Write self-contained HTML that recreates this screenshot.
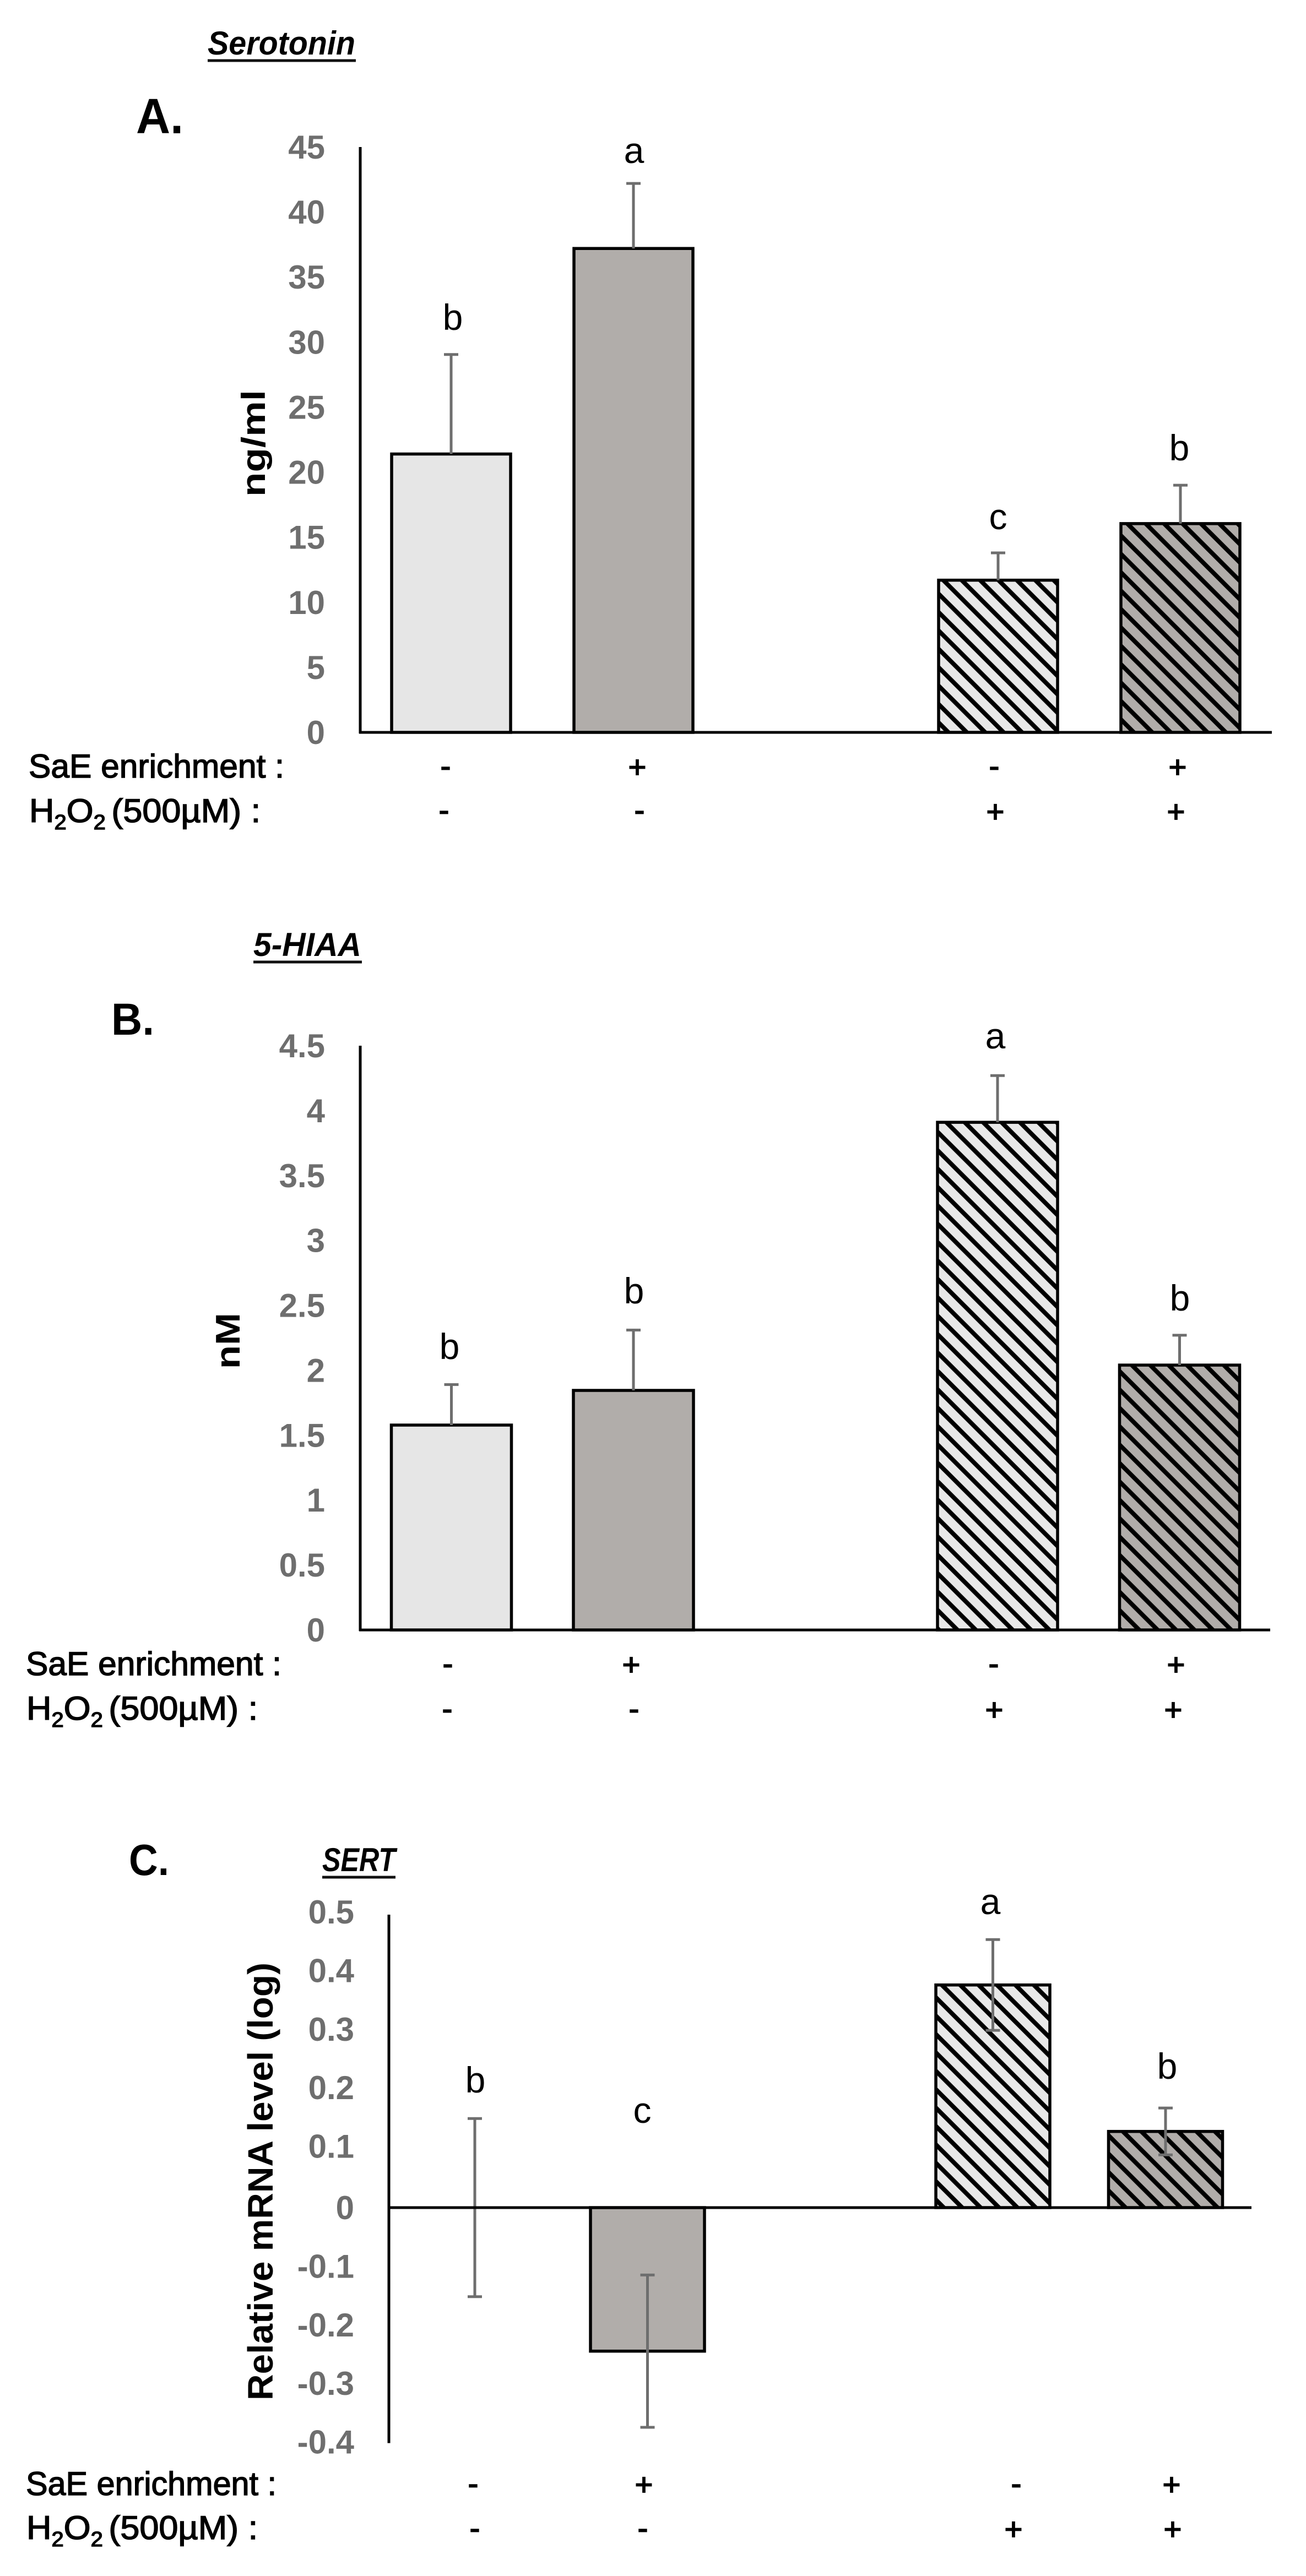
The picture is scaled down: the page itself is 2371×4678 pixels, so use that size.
<!DOCTYPE html>
<html lang="en">
<head>
<meta charset="utf-8">
<title>Serotonin, 5-HIAA and SERT</title>
<style>
html,body{margin:0;padding:0;background:#fff;}
svg{display:block;}
text{font-family:"Liberation Sans",sans-serif;fill:#000;}
.row{font-size:60px;stroke:#000;stroke-width:1.5px;}
.sign{font-size:56px;text-anchor:middle;stroke:#000;stroke-width:1.8px;}
.sig{font-size:66px;text-anchor:middle;}
.panel{font-weight:bold;}
.gene{font-size:60px;font-weight:bold;font-style:italic;}
.ytitle{font-weight:bold;}
.tick{font-size:60px;font-weight:bold;fill:#6e6e6e;text-anchor:end;}
</style>
</head>
<body>
<svg id="fig" xmlns="http://www.w3.org/2000/svg" width="2371" height="4678" viewBox="0 0 2371 4678">
<defs>
<pattern id="hatch-a-light" patternUnits="userSpaceOnUse" width="33.4" height="33.4" patternTransform="translate(24.4,0)"><rect width="33.4" height="33.4" fill="#e8e8e8"/><path d="M-5,-5L38.4,38.4M23.4,-10L43.4,10M-10,23.4L10,43.4" stroke="#000" stroke-width="8"/></pattern>
<pattern id="hatch-a-dark" patternUnits="userSpaceOnUse" width="33.4" height="33.4" patternTransform="translate(27,0)"><rect width="33.4" height="33.4" fill="#b1adaa"/><path d="M-5,-5L38.4,38.4M23.4,-10L43.4,10M-10,23.4L10,43.4" stroke="#000" stroke-width="8"/></pattern>
<pattern id="hatch-b-light" patternUnits="userSpaceOnUse" width="33.4" height="33.4" patternTransform="translate(14,0)"><rect width="33.4" height="33.4" fill="#e8e8e8"/><path d="M-5,-5L38.4,38.4M23.4,-10L43.4,10M-10,23.4L10,43.4" stroke="#000" stroke-width="8"/></pattern>
<pattern id="hatch-b-dark" patternUnits="userSpaceOnUse" width="33.4" height="33.4" patternTransform="translate(10,0)"><rect width="33.4" height="33.4" fill="#b1adaa"/><path d="M-5,-5L38.4,38.4M23.4,-10L43.4,10M-10,23.4L10,43.4" stroke="#000" stroke-width="8"/></pattern>
<pattern id="hatch-c-light" patternUnits="userSpaceOnUse" width="33.4" height="33.4" patternTransform="translate(9,0)"><rect width="33.4" height="33.4" fill="#e8e8e8"/><path d="M-5,-5L38.4,38.4M23.4,-10L43.4,10M-10,23.4L10,43.4" stroke="#000" stroke-width="8"/></pattern>
<pattern id="hatch-c-dark" patternUnits="userSpaceOnUse" width="33.4" height="33.4" patternTransform="translate(5,0)"><rect width="33.4" height="33.4" fill="#b1adaa"/><path d="M-5,-5L38.4,38.4M23.4,-10L43.4,10M-10,23.4L10,43.4" stroke="#000" stroke-width="8"/></pattern>
</defs>

<!-- Panel A static text -->
<text class="gene" x="377" y="99" textLength="268" lengthAdjust="spacingAndGlyphs">Serotonin</text>
<line x1="377" x2="646" y1="110" y2="110" stroke="#111" stroke-width="5"/>
<text class="panel" x="247" y="242" font-size="90" textLength="86" lengthAdjust="spacingAndGlyphs">A.</text>
<text class="ytitle" font-size="60" transform="translate(481,902) rotate(-90)" textLength="194" lengthAdjust="spacingAndGlyphs">ng/ml</text>
<text class="row" x="52" y="1412" textLength="464" lengthAdjust="spacingAndGlyphs">SaE enrichment :</text>
<text class="row" transform="translate(53,1493) scale(1.05,1)">H<tspan font-size="38" dy="13">2</tspan><tspan dy="-13">O</tspan><tspan font-size="38" dy="13">2</tspan><tspan dy="-13" dx="10">(500µM) :</tspan></text>
<g>
<text class="sign" x="809" y="1410">-</text><text class="sign" x="1157" y="1412">+</text><text class="sign" x="1805" y="1410">-</text><text class="sign" x="2138" y="1412">+</text>
</g>
<g>
<text class="sign" x="806" y="1490">-</text><text class="sign" x="1161" y="1490">-</text><text class="sign" x="1807" y="1493">+</text><text class="sign" x="2135" y="1493">+</text>
</g>
<g>
<text class="sig" x="822" y="599">b</text><text class="sig" x="1151" y="296">a</text><text class="sig" x="1812" y="961">c</text><text class="sig" x="2141" y="836">b</text>
</g>

<!-- Panel B static text -->
<text class="gene" x="460" y="1736" textLength="196" lengthAdjust="spacingAndGlyphs">5-HIAA</text>
<line x1="460" x2="657" y1="1747" y2="1747" stroke="#111" stroke-width="5"/>
<text class="panel" x="202" y="1879" font-size="82" textLength="78" lengthAdjust="spacingAndGlyphs">B.</text>
<text class="ytitle" font-size="62" transform="translate(435,2486) rotate(-90)" textLength="102" lengthAdjust="spacingAndGlyphs">nM</text>
<text class="row" x="47" y="3042" textLength="464" lengthAdjust="spacingAndGlyphs">SaE enrichment :</text>
<text class="row" transform="translate(48,3123) scale(1.05,1)">H<tspan font-size="38" dy="13">2</tspan><tspan dy="-13">O</tspan><tspan font-size="38" dy="13">2</tspan><tspan dy="-13" dx="10">(500µM) :</tspan></text>
<g>
<text class="sign" x="813" y="3040">-</text><text class="sign" x="1146" y="3042">+</text><text class="sign" x="1804" y="3040">-</text><text class="sign" x="2135" y="3042">+</text>
</g>
<g>
<text class="sign" x="812" y="3122">-</text><text class="sign" x="1151" y="3122">-</text><text class="sign" x="1805" y="3124">+</text><text class="sign" x="2130" y="3124">+</text>
</g>
<g>
<text class="sig" x="816" y="2468">b</text><text class="sig" x="1151" y="2367">b</text><text class="sig" x="1807" y="1904">a</text><text class="sig" x="2142" y="2380">b</text>
</g>

<!-- Panel C static text -->
<text class="gene" x="585" y="3398" textLength="133" lengthAdjust="spacingAndGlyphs">SERT</text>
<line x1="585" x2="718" y1="3409" y2="3409" stroke="#111" stroke-width="5"/>
<text class="panel" x="234" y="3405" font-size="80" textLength="73" lengthAdjust="spacingAndGlyphs">C.</text>
<text class="ytitle" font-size="64" transform="translate(495,4359) rotate(-90)" textLength="795" lengthAdjust="spacingAndGlyphs">Relative mRNA level (log)</text>
<text class="row" x="47" y="4531" textLength="455" lengthAdjust="spacingAndGlyphs">SaE enrichment :</text>
<text class="row" transform="translate(48,4611) scale(1.05,1)">H<tspan font-size="38" dy="13">2</tspan><tspan dy="-13">O</tspan><tspan font-size="38" dy="13">2</tspan><tspan dy="-13" dx="10">(500µM) :</tspan></text>
<g>
<text class="sign" x="859" y="4529">-</text><text class="sign" x="1169" y="4531">+</text><text class="sign" x="1845" y="4529">-</text><text class="sign" x="2127" y="4531">+</text>
</g>
<g>
<text class="sign" x="862" y="4610">-</text><text class="sign" x="1167" y="4610">-</text><text class="sign" x="1840" y="4612">+</text><text class="sign" x="2129" y="4612">+</text>
</g>
<g>
<text class="sig" x="863" y="3800">b</text><text class="sig" x="1166" y="3855">c</text><text class="sig" x="1798" y="3476">a</text><text class="sig" x="2119" y="3775">b</text>
</g>
</svg>

<script>
// Categories share a blank spacer slot between the two treatment groups.
var categories = ['SaE-, H2O2-', 'SaE+, H2O2-', '', 'SaE-, H2O2+', 'SaE+, H2O2+'];

var serotoninTicks = ['0', '5', '10', '15', '20', '25', '30', '35', '40', '45'];
var serotoninValues = [21.4, 37.2, null, 11.7, 16.05];
var serotoninErrors = [7.65, 5.0, null, 2.1, 2.95];

var hiaaTicks = ['0', '0.5', '1', '1.5', '2', '2.5', '3', '3.5', '4', '4.5'];
var hiaaValues = [1.578, 1.845, null, 3.91, 2.04];
var hiaaErrors = [0.312, 0.465, null, 0.36, 0.23];

var sertTicks = ['-0.4', '-0.3', '-0.2', '-0.1', '0', '0.1', '0.2', '0.3', '0.4', '0.5'];
var sertValues = [0, -0.245, null, 0.38, 0.13];
var sertErrors = [0.152, 0.13, null, 0.0775, 0.04];

var NS = 'http://www.w3.org/2000/svg';
var fig = document.getElementById('fig');

function make(tag, attrs, parent) {
  var el = document.createElementNS(NS, tag);
  for (var k in attrs) el.setAttribute(k, attrs[k]);
  parent.appendChild(el);
  return el;
}

function linearScale(d0, d1, r0, r1) {
  return function (v) { return r0 + (v - d0) * (r1 - r0) / (d1 - d0); };
}

function slotScale(first, step) {
  return function (i) { return first + i * step; };
}

function drawPanel(p, ticks, values, errors) {
  var y = linearScale(p.dMin, p.dMax, p.yBottom, p.yTop);
  var x = slotScale(p.xFirst, p.xStep);
  var zero = y(0);

  var panel = make('g', {}, fig);
  
  

  ticks.forEach(function (t) {
    var v = parseFloat(t);
    var lift = v > 0 ? p.tickLift : 0;
    var label = make('text', {'class': 'tick', x: p.tickX, y: y(v) + 21 - lift}, panel);
    label.textContent = t;
    
    
  });

  values.forEach(function (v, i) {
    if (v === null) return;
    var cx = x(i);
    var hatched = i > 2;
    var dark = i % 2 === 1 || i === 4;
    var fill = hatched
      ? 'url(#hatch-' + p.key + (i === 4 ? '-dark' : '-light') + ')'
      : (dark ? '#b1adaa' : '#e6e6e6');
    var top = Math.min(y(v), zero);
    var bar = make('rect', {
      x: cx - p.barW / 2, y: top, width: p.barW, height: Math.abs(y(v) - zero),
      fill: fill, stroke: '#000', 'stroke-width': 5.5, 'stroke-linejoin': 'miter'
    }, panel);
    
    
  });

  values.forEach(function (v, i) {
    if (v === null) return;
    var cx = x(i);
    var hi = v + errors[i];
    var lo = p.bothErrors ? v - errors[i] : v;
    var stem = make('line', {x1: cx, x2: cx, y1: y(hi), y2: y(lo), stroke: '#6e6e6e', 'stroke-width': 5}, panel);
    
    
    var capTop = make('line', {x1: cx - 13, x2: cx + 13, y1: y(hi), y2: y(hi), stroke: '#6e6e6e', 'stroke-width': 5}, panel);
    
    
    if (p.bothErrors) {
      var capLow = make('line', {x1: cx - 13, x2: cx + 13, y1: y(lo), y2: y(lo), stroke: '#6e6e6e', 'stroke-width': 5}, panel);
      
      
    }
  });

  var yAxis = make('line', {x1: p.axisX, x2: p.axisX, y1: p.yTop, y2: y(p.dMin) + 2, stroke: '#000', 'stroke-width': 5}, panel);
  
  

  var xAxis = make('line', {x1: p.axisX - 2, x2: p.axisEnd, y1: zero, y2: zero, stroke: '#000', 'stroke-width': 5}, panel);
  
  
}

drawPanel({key: 'a', dMin: 0, dMax: 45, yBottom: 1330, yTop: 267, xFirst: 819, xStep: 331, barW: 216, tickX: 590, tickLift: 0, axisX: 654, axisEnd: 2309, bothErrors: false},
  serotoninTicks, serotoninValues, serotoninErrors);
drawPanel({key: 'b', dMin: 0, dMax: 4.5, yBottom: 2960, yTop: 1899, xFirst: 819.5, xStep: 330.5, barW: 218, tickX: 590, tickLift: 0, axisX: 654, axisEnd: 2306, bothErrors: false},
  hiaaTicks, hiaaValues, hiaaErrors);
drawPanel({key: 'c', dMin: -0.4, dMax: 0.5, yBottom: 4434.6, yTop: 3477, xFirst: 862, xStep: 313.5, barW: 207, tickX: 643, tickLift: 5, axisX: 706, axisEnd: 2272, bothErrors: true},
  sertTicks, sertValues, sertErrors);
</script>
</body>
</html>
